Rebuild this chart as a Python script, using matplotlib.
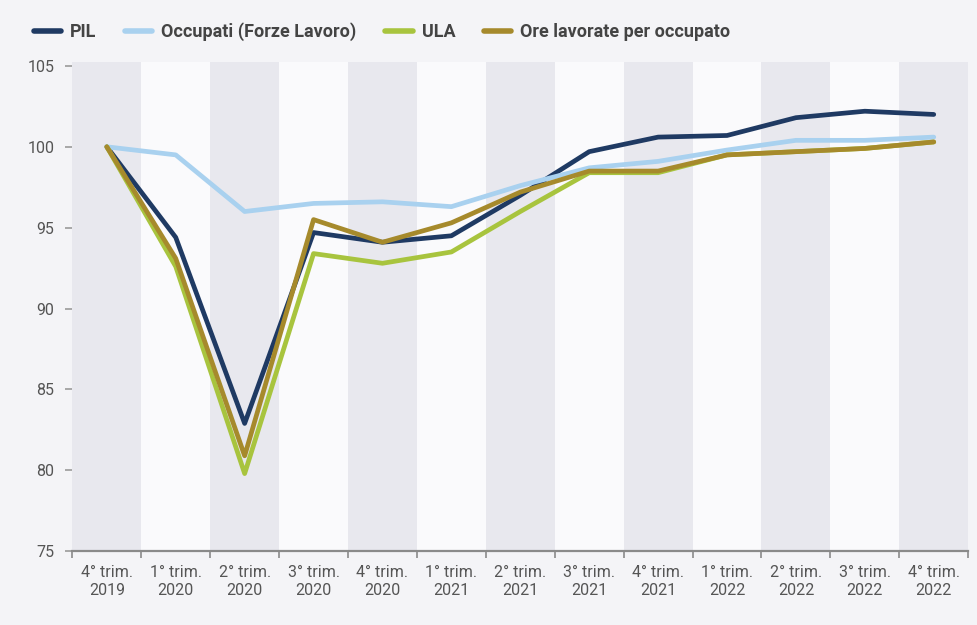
import matplotlib
matplotlib.use("Agg")
import matplotlib.pyplot as plt
from matplotlib.ticker import FixedLocator

plt.rcParams['font.family'] = ['Liberation Sans Narrow', 'Roboto', 'DejaVu Sans']

quarters = ["4° trim.\n2019", "1° trim.\n2020", "2° trim.\n2020", "3° trim.\n2020",
            "4° trim.\n2020", "1° trim.\n2021", "2° trim.\n2021", "3° trim.\n2021",
            "4° trim.\n2021", "1° trim.\n2022", "2° trim.\n2022", "3° trim.\n2022",
            "4° trim.\n2022"]

pil = [100.0, 94.4, 82.9, 94.7, 94.1, 94.5, 97.0, 99.7, 100.6, 100.7, 101.8, 102.2, 102.0]
occupati = [100.0, 99.5, 96.0, 96.5, 96.6, 96.3, 97.6, 98.7, 99.1, 99.8, 100.4, 100.4, 100.6]
ula = [100.0, 92.6, 79.8, 93.4, 92.8, 93.5, 96.0, 98.4, 98.4, 99.5, 99.7, 99.9, 100.3]
ore = [100.0, 93.1, 80.9, 95.5, 94.1, 95.3, 97.2, 98.5, 98.5, 99.5, 99.7, 99.9, 100.3]

series = [
    ("PIL", pil, "#1f3a63"),
    ("Occupati (Forze Lavoro)", occupati, "#a9d1ef"),
    ("ULA", ula, "#a8c43e"),
    ("Ore lavorate per occupato", ore, "#a68a2c"),
]

fig = plt.figure(figsize=(9.78, 6.25), dpi=100, facecolor="#f4f4f7")
ax = fig.add_axes([0.074, 0.118, 0.916, 0.783])
ax.set_facecolor("#f4f4f7")

x = list(range(len(quarters)))
for i in x:
    ax.axvspan(i - 0.5, i + 0.5, color="#e8e8ee" if i % 2 == 0 else "#fafafc",
               lw=0, zorder=0)

for name, vals, col in series:
    ax.plot(x, vals, color=col, lw=3.4, label=name, zorder=3,
            solid_joinstyle="round", solid_capstyle="round")

ax.set_xlim(-0.5, len(quarters) - 0.5)
ax.set_ylim(75, 105.25)
ax.set_yticks([75, 80, 85, 90, 95, 100, 105])
ax.set_xticks(x)
ax.set_xticklabels(quarters, fontsize=11.5, color="#555555", linespacing=1.25)
ax.xaxis.set_minor_locator(FixedLocator([i - 0.5 for i in range(len(quarters) + 1)]))
ax.tick_params(axis="x", which="major", length=0, pad=10)
ax.tick_params(axis="x", which="minor", length=5, width=1.2, color="#8a8a8a", direction="out")
ax.tick_params(axis="y", length=5, width=1.2, color="#9a9a9a", labelsize=11.5,
               labelcolor="#555555", pad=8)

for s in ["top", "right", "left"]:
    ax.spines[s].set_visible(False)
ax.spines["bottom"].set_color("#8a8a8a")
ax.spines["bottom"].set_linewidth(1.6)

leg = fig.legend(loc="upper left", bbox_to_anchor=(0.018, 0.99), ncol=4, frameon=False,
                 handlelength=1.5, handletextpad=0.5, columnspacing=1.6,
                 prop={"size": 13, "weight": "bold"})
for t in leg.get_texts():
    t.set_color("#444444")
for h in leg.get_lines():
    h.set_linewidth(4)

fig.savefig("out.png", dpi=100, facecolor=fig.get_facecolor())
